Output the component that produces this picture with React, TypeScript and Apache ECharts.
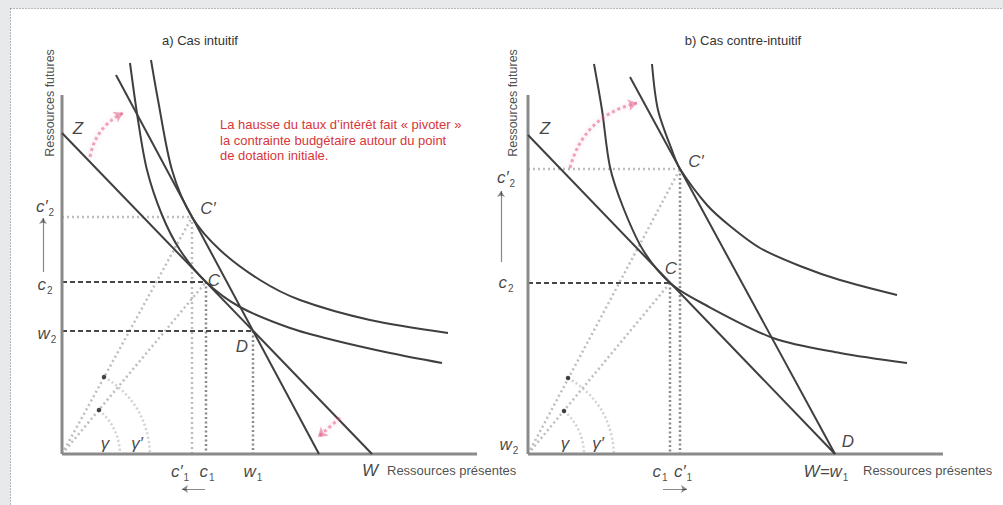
import { useEffect, useRef } from "react";
import * as echarts from "echarts";

type Pt = [number, number];

// Both panels use the same scale: one unit per screen pixel, measured from the panel origin.

// ---- a) Cas intuitif ----
const A_AXIS_X: Pt[] = [[0, 0], [415, 0]];
const A_AXIS_Y: Pt[] = [[0, 0], [0, 359]];
const A_BUDGET_OLD: Pt[] = [[0, 321], [310, 0]]; // Z -> W
const A_BUDGET_NEW: Pt[] = [[54, 379], [257, 0]]; // pivoted around D
const A_INDIFF_C: Pt[] = [
  [68, 391], [76, 334], [85, 284], [100, 239], [118, 204], [144, 172],
  [178, 147], [228, 126], [271, 114], [328, 101], [380, 91],
];
const A_INDIFF_CP: Pt[] = [
  [89, 394], [96, 354], [110, 284], [130, 237], [158, 204], [198, 174],
  [238, 154], [308, 134], [386, 121],
];
const A_C: Pt = [144, 172];
const A_CP: Pt = [130, 237];
const A_D: Pt = [191, 123];
const A_GAMMA: Pt[] = [[37, 44], [58, 0]];
const A_GAMMA_P: Pt[] = [[42, 77], [88, 0]];
const A_ROTATE_TOP: Pt[] = [[28, 297], [61, 341]];
const A_ROTATE_BOTTOM: Pt[] = [[278, 36], [256, 17]];
const A_ARROW_Y: Pt[] = [[-19, 182], [-19, 236]];
const A_ARROW_X: Pt[] = [[143, -35], [120, -35]];

// ---- b) Cas contre-intuitif ----
const B_AXIS_X: Pt[] = [[0, 0], [415, 0]];
const B_AXIS_Y: Pt[] = [[0, 0], [0, 359]];
const B_BUDGET_OLD: Pt[] = [[0, 319], [307, 0]]; // Z -> W = w1
const B_BUDGET_NEW: Pt[] = [[102, 377], [307, 0]]; // pivoted around D
const B_INDIFF_C: Pt[] = [
  [66, 390], [74, 344], [82, 287], [95, 247], [115, 204], [142, 171],
  [172, 152], [245, 116], [312, 101], [379, 91],
];
const B_INDIFF_CP: Pt[] = [
  [124, 390], [130, 344], [145, 301], [152, 285], [179, 249], [202, 228],
  [232, 206], [272, 188], [312, 174], [369, 159],
];
const B_C: Pt = [142, 171];
const B_CP: Pt = [152, 285];
const B_GAMMA: Pt[] = [[36, 43], [56, 0]];
const B_GAMMA_P: Pt[] = [[40, 76], [86, 0]];
const B_ROTATE_TOP: Pt[] = [[42, 286], [109, 351]];
const B_ARROW_Y: Pt[] = [[-27, 192], [-27, 263]];
const B_ARROW_X: Pt[] = [[135, -35], [159, -35]];

// ---- texts ----
const TITLE_A = "a) Cas intuitif";
const TITLE_B = "b) Cas contre-intuitif";
const Y_TITLE = "Ressources futures";
const X_TITLE = "Ressources présentes";
const NOTE = [
  "La hausse du taux d’intérêt fait « pivoter »",
  "la contrainte budgétaire autour du point",
  "de dotation initiale.",
];

const INK = "#141414";
const CURVE = "#3f3f3f";
const SANS = "'Liberation Sans', Arial, Helvetica, sans-serif";

const LIGHT_DOT = { color: "#bdbdbd", width: 2.5, type: [2, 3] as number[] };
const ARC_DOT = { color: "#a6a6a6", width: 2.5, type: [2, 2.5] as number[] };
const MID_DOT = { color: "#8a8a8a", width: 2.5, type: [2, 2.5] as number[] };
const DARK_DASH = { color: "#474747", width: 2, type: [5, 3] as number[] };
const AXIS = { color: "#8a8a8a", width: 3 };
const LINE = { color: CURVE, width: 2 };
const PINK = {
  color: "#e0507a",
  width: 3,
  type: [3, 3] as number[],
  shadowBlur: 4,
  shadowColor: "rgba(235,90,130,0.5)",
};

const mathRich = {
  v: { fontFamily: SANS, fontStyle: "italic", fontSize: 17, color: INK },
  s: { fontFamily: SANS, fontSize: 10, color: INK, padding: [13, 0, 0, 1] },
};

function poly(grid: number, data: Pt[], lineStyle: any, z = 2, smooth: number | boolean = false) {
  return {
    type: "line",
    xAxisIndex: grid,
    yAxisIndex: grid,
    data,
    smooth,
    symbol: "none",
    lineStyle,
    silent: true,
    clip: false,
    z,
  };
}

function arcs(grid: number, items: { coords: Pt[]; curveness: number }[], lineStyle: any, arrow: boolean, size = 8, z = 3) {
  return {
    type: "lines",
    coordinateSystem: "cartesian2d",
    xAxisIndex: grid,
    yAxisIndex: grid,
    symbol: arrow ? ["none", "arrow"] : ["none", "none"],
    symbolSize: size,
    silent: true,
    lineStyle,
    z,
    data: items.map((it) => ({ coords: it.coords, lineStyle: { curveness: it.curveness } })),
  };
}

function texts(grid: number, items: { at: Pt; text: string }[], label: any) {
  return {
    type: "scatter",
    xAxisIndex: grid,
    yAxisIndex: grid,
    symbolSize: 0,
    silent: true,
    z: 8,
    data: items.map((it) => ({ value: it.at, text: it.text })),
    label: { show: true, formatter: (p: any) => p.data.text, ...label },
  };
}

function dots(grid: number, pts: Pt[]) {
  return {
    type: "scatter",
    xAxisIndex: grid,
    yAxisIndex: grid,
    symbolSize: 4.5,
    silent: true,
    z: 7,
    itemStyle: { color: "#1a1a1a" },
    data: pts,
  };
}

const mathLabel = { position: "inside", rich: mathRich };
const plainRight = { position: "right", distance: 0, color: "#222", fontFamily: SANS, fontSize: 13 };
const verticalLabel = { position: "inside", rotate: 90, color: "#222", fontFamily: SANS, fontSize: 12.5 };
const arrowInk = { color: INK, width: 1.2 };

function buildOption() {
  const series: any[] = [
    // panel a
    poly(0, [[0, A_CP[1]], A_CP], LIGHT_DOT, 1),
    poly(0, [A_CP, [A_CP[0], 0]], LIGHT_DOT, 1),
    poly(0, [[0, 0], A_CP], LIGHT_DOT, 1),
    poly(0, [[0, 0], A_C], LIGHT_DOT, 1),
    arcs(0, [
      { coords: A_GAMMA, curveness: 0.22 },
      { coords: A_GAMMA_P, curveness: 0.27 },
    ], ARC_DOT, false, 0, 1),
    poly(0, [[0, A_C[1]], A_C], DARK_DASH, 1),
    poly(0, [A_C, [A_C[0], 0]], MID_DOT, 1),
    poly(0, [[0, A_D[1]], A_D], DARK_DASH, 1),
    poly(0, [A_D, [A_D[0], 0]], MID_DOT, 1),
    poly(0, A_AXIS_X, AXIS, 2),
    poly(0, A_AXIS_Y, AXIS, 2),
    poly(0, A_BUDGET_OLD, LINE, 3),
    poly(0, A_BUDGET_NEW, LINE, 3),
    poly(0, A_INDIFF_C, LINE, 3, 0.3),
    poly(0, A_INDIFF_CP, LINE, 3, 0.3),
    arcs(0, [
      { coords: A_ROTATE_TOP, curveness: 0.25 },
      { coords: A_ROTATE_BOTTOM, curveness: 0 },
    ], PINK, true, 9, 4),
    arcs(0, [
      { coords: A_ARROW_Y, curveness: 0 },
      { coords: A_ARROW_X, curveness: 0 },
    ], arrowInk, true, 6, 4),
    dots(0, [A_GAMMA[0], A_GAMMA_P[0]]),
    texts(0, [
      { at: [16, 326], text: "{v|Z}" },
      { at: [146, 246], text: "{v|C′}" },
      { at: [152, 174], text: "{v|C}" },
      { at: [180, 108], text: "{v|D}" },
      { at: [-17, 248], text: "{v|c′}{s|2}" },
      { at: [-17, 170], text: "{v|c}{s|2}" },
      { at: [-15, 121], text: "{v|w}{s|2}" },
      { at: [118, -17], text: "{v|c′}{s|1}" },
      { at: [145, -17], text: "{v|c}{s|1}" },
      { at: [191, -17], text: "{v|w}{s|1}" },
      { at: [308, -16], text: "{v|W}" },
      { at: [43, 11], text: "{v|γ}" },
      { at: [75, 11], text: "{v|γ′}" },
    ], mathLabel),
    texts(0, [{ at: [325, -16], text: X_TITLE }], plainRight),
    texts(0, [{ at: [-12, 351], text: Y_TITLE }], verticalLabel),

    // panel b
    poly(1, [[0, B_CP[1]], B_CP], LIGHT_DOT, 1),
    poly(1, [B_CP, [B_CP[0], 0]], MID_DOT, 1),
    poly(1, [[0, 0], B_CP], LIGHT_DOT, 1),
    poly(1, [[0, 0], B_C], LIGHT_DOT, 1),
    arcs(1, [
      { coords: B_GAMMA, curveness: 0.22 },
      { coords: B_GAMMA_P, curveness: 0.27 },
    ], ARC_DOT, false, 0, 1),
    poly(1, [[0, B_C[1]], B_C], DARK_DASH, 1),
    poly(1, [B_C, [B_C[0], 0]], MID_DOT, 1),
    poly(1, B_AXIS_X, AXIS, 2),
    poly(1, B_AXIS_Y, AXIS, 2),
    poly(1, B_BUDGET_OLD, LINE, 3),
    poly(1, B_BUDGET_NEW, LINE, 3),
    poly(1, B_INDIFF_C, LINE, 3, 0.3),
    poly(1, B_INDIFF_CP, LINE, 3, 0.3),
    arcs(1, [{ coords: B_ROTATE_TOP, curveness: 0.3 }], PINK, true, 9, 4),
    arcs(1, [
      { coords: B_ARROW_Y, curveness: 0 },
      { coords: B_ARROW_X, curveness: 0 },
    ], arrowInk, true, 6, 4),
    dots(1, [B_GAMMA[0], B_GAMMA_P[0]]),
    texts(1, [
      { at: [17, 326], text: "{v|Z}" },
      { at: [168, 293], text: "{v|C′}" },
      { at: [143, 186], text: "{v|C}" },
      { at: [320, 13], text: "{v|D}" },
      { at: [-22, 277], text: "{v|c′}{s|2}" },
      { at: [-22, 172], text: "{v|c}{s|2}" },
      { at: [-19, 10], text: "{v|w}{s|2}" },
      { at: [132, -17], text: "{v|c}{s|1}" },
      { at: [155, -17], text: "{v|c′}{s|1}" },
      { at: [298, -17], text: "{v|W=w}{s|1}" },
      { at: [37, 11], text: "{v|γ}" },
      { at: [70, 11], text: "{v|γ′}" },
    ], mathLabel),
    texts(1, [{ at: [335, -16], text: X_TITLE }], plainRight),
    texts(1, [{ at: [-15, 351], text: Y_TITLE }], verticalLabel),
  ];

  const axisX = (i: number) => ({ gridIndex: i, type: "value", min: -60, max: 470, show: false });
  const axisY = (i: number) => ({ gridIndex: i, type: "value", min: -50, max: 400, show: false });

  return {
    animation: false,
    backgroundColor: "#e8e9eb",
    grid: [
      { left: 2, top: 54, width: 530, height: 450 },
      { left: 468, top: 54, width: 530, height: 450 },
    ],
    xAxis: [axisX(0), axisX(1)],
    yAxis: [axisY(0), axisY(1)],
    graphic: [
      {
        type: "rect",
        z: -100,
        silent: true,
        shape: { x: 10.5, y: 8.5, width: 1100, height: 600 },
        style: { fill: "#ffffff", stroke: "#7a7a7a", lineWidth: 1, lineDash: [1, 2] },
      },
      {
        type: "text",
        x: 200,
        y: 40,
        silent: true,
        style: { text: TITLE_A, fill: "#333", font: `13px ${SANS}`, align: "center", verticalAlign: "middle" },
      },
      {
        type: "text",
        x: 743,
        y: 40,
        silent: true,
        style: { text: TITLE_B, fill: "#333", font: `13px ${SANS}`, align: "center", verticalAlign: "middle" },
      },
      {
        type: "text",
        x: 220,
        y: 117,
        silent: true,
        style: {
          text: NOTE.join("\n"),
          fill: "#d8363a",
          font: `13px ${SANS}`,
          lineHeight: 15.5,
          align: "left",
          verticalAlign: "top",
        },
      },
    ],
    series,
  };
}

export default function App() {
  const ref = useRef<HTMLDivElement>(null);
  useEffect(() => {
    if (!ref.current) return;
    const chart = echarts.init(ref.current, undefined, { renderer: "svg" });
    chart.setOption(buildOption() as any);
    return () => chart.dispose();
  }, []);
  return (
    <div
      ref={ref}
      style={{ position: "absolute", left: 0, top: 0, width: 1003, height: 505 }}
    />
  );
}
